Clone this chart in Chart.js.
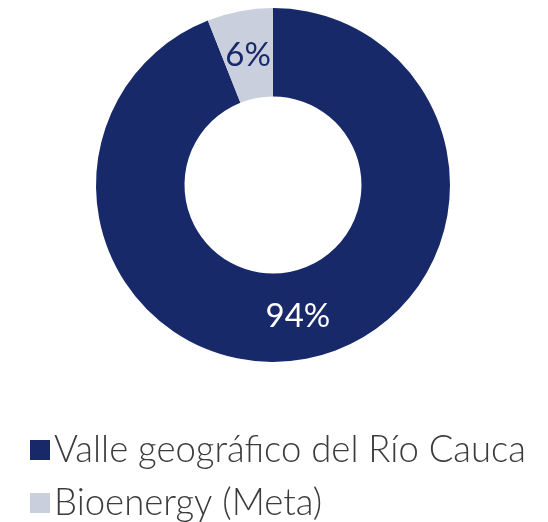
<!DOCTYPE html>
<html>
<head>
<meta charset="utf-8">
<script src="https://cdn.jsdelivr.net/npm/chart.js@4"></script>
<style>
    html, body { margin: 0; padding: 0; background: #ffffff; }
    #wrap { width: 548px; height: 522px; }
</style>
</head>
<body>
<div id="wrap"><canvas id="chart" width="548" height="522"></canvas></div>
<script>
const categories = ["Valle geográfico del Río Cauca", "Bioenergy (Meta)"];
const shares = [94, 6];
const colors = ["#18296a", "#c9cfdd"];
const labelColors = ["#ffffff", "#18296a"];

// percentage inside each slice, at mid radius
const sliceLabels = {
    id: "sliceLabels",
    afterDatasetsDraw(chart) {
        const ctx = chart.ctx;
        const meta = chart.getDatasetMeta(0);
        ctx.save();
        ctx.font = "400 33px Lato";
        ctx.textAlign = "center";
        ctx.textBaseline = "middle";
        meta.data.forEach((arc, i) => {
            const p = arc.getCenterPoint();
            ctx.fillStyle = labelColors[i];
            ctx.fillText(shares[i] + "%", p.x, p.y + 1);
        });
        ctx.restore();
    },
};

// legend under the chart, one item per row
const rowLegend = {
    id: "rowLegend",
    afterDraw(chart) {
        const ctx = chart.ctx;
        const ds = chart.data.datasets[0];
        ctx.save();
        ctx.font = "300 36.5px Lato";
        ctx.textBaseline = "middle";
        chart.data.labels.forEach((label, i) => {
            const y = 450 + i * 53;
            ctx.fillStyle = ds.backgroundColor[i];
            ctx.fillRect(30, y - 10, 20, 20);
            ctx.fillStyle = "#3c3c3c";
            ctx.fillText(label, 54, y);
        });
        ctx.restore();
    },
};

const ctx = document.getElementById("chart").getContext("2d");
const chart = new Chart(ctx, {
    type: "doughnut",
    data: {
        labels: categories,
        datasets: [
            {
                data: shares,
                backgroundColor: colors,
                borderWidth: 0,
            },
        ],
    },
    options: {
        responsive: false,
        animation: false,
        cutout: "50%",
        layout: { padding: { top: 8, left: 0, right: 2, bottom: 160 } },
        plugins: {
            tooltip: { enabled: false },
            legend: { display: false },
        },
    },
    plugins: [sliceLabels, rowLegend],
});
</script>
</body>
</html>
